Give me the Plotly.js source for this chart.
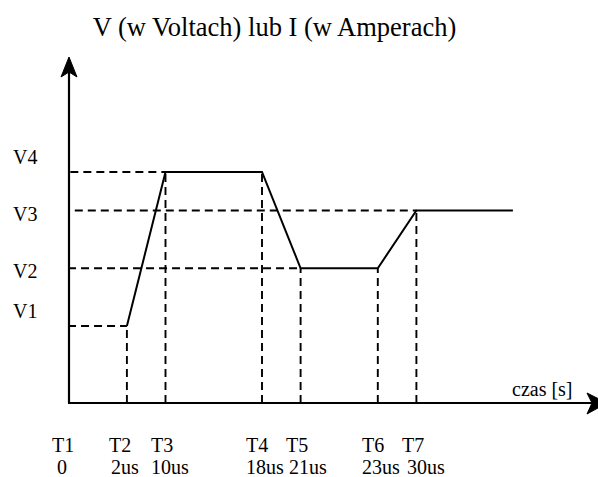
<!DOCTYPE html>
<html><head><meta charset="utf-8">
<script src="https://cdn.plot.ly/plotly-3.0.1.min.js"></script>
</head><body style="margin:0;padding:0"><div id="chart" style="width:598px;height:477px"></div>
<script>
// ---- data (schematic grid units) ----
var timeNames  = ['T1', 'T2', 'T3', 'T4', 'T5', 'T6', 'T7'];
var timeValues = ['0', '2us', '10us', '18us', '21us', '23us', '30us'];
var timePos    = [0, 3, 5, 10, 12, 16, 18];
var endPos     = 23;

var levelNames   = ['V1', 'V2', 'V3', 'V4'];
var levelHeights = [4, 7, 10, 12];

// waveform: at each time mark, which level the signal has
var waveTimes  = ['T2', 'T3', 'T4', 'T5', 'T6', 'T7', 'END'];
var waveLevels = ['V1', 'V4', 'V4', 'V2', 'V2', 'V3', 'V3'];

var title = 'V (w Voltach) lub I (w Amperach)';
var xAxisLabel = 'czas [s]';

// ---- styling / label placement (px offsets) ----
var nameShift  = [-19, -20, -16.5, -18, -16.5, -17.5, -16.5];
var valueShift = [-14, -18, -16.5, -18, -13.5, -17.5, -11.5];
var lvShift = {V1: 15, V2: -3, V3: -3, V4: 15};

// ---- helpers ----
function tX(name) { return name === 'END' ? endPos : timePos[timeNames.indexOf(name)]; }
function lY(name) { return levelHeights[levelNames.indexOf(name)]; }

var FONT = 'Liberation Serif';
var ux = 19.3, uy = 19.25;        // px per grid unit
var x0px = 69, y0px = 403;        // origin in px

var traces = [];
var dashStyle = {color: '#000', width: 1.9, dash: '8px,5px'};

// horizontal guides: from axis to first time each level is reached
var hStart = {V1: -0.05, V2: -0.05, V3: 0.3, V4: 0.07};
levelNames.forEach(function (lv) {
  var i = waveLevels.indexOf(lv);
  traces.push({x: [hStart[lv], tX(waveTimes[i])], y: [lY(lv), lY(lv)], mode: 'lines',
    line: dashStyle, hoverinfo: 'skip', showlegend: false});
});
// vertical guides at each time mark of the waveform (except END)
waveTimes.forEach(function (t, i) {
  if (t === 'END') return;
  traces.push({x: [tX(t), tX(t)], y: [0, lY(waveLevels[i])], mode: 'lines',
    line: dashStyle, hoverinfo: 'skip', showlegend: false});
});
// waveform
traces.push({x: waveTimes.map(tX), y: waveLevels.map(lY), mode: 'lines',
  line: {color: '#000', width: 2}, hoverinfo: 'skip', showlegend: false});

// ---- annotations ----
var ann = [];
var tLabelY = 1 - 445 / 477, tValueY = 1 - 467 / 477;
timeNames.forEach(function (n, i) {
  ann.push({x: timePos[i], xref: 'x', y: tLabelY, yref: 'paper', text: n, showarrow: false,
    xanchor: 'left', yanchor: 'middle', xshift: nameShift[i], font: {family: FONT, size: 20, color: '#000'}});
  ann.push({x: timePos[i], xref: 'x', y: tValueY, yref: 'paper', text: timeValues[i], showarrow: false,
    xanchor: 'left', yanchor: 'middle', xshift: valueShift[i], font: {family: FONT, size: 20, color: '#000'}});
});
levelNames.forEach(function (n, i) {
  ann.push({x: 11 / 598, xref: 'paper', y: levelHeights[i], yref: 'y', text: n, showarrow: false,
    xanchor: 'left', yanchor: 'middle', yshift: lvShift[n], font: {family: FONT, size: 20, color: '#000'}});
});
ann.push({x: (510 - x0px) / ux, xref: 'x', y: (y0px - 389) / uy, yref: 'y', text: xAxisLabel, showarrow: false,
  xanchor: 'left', yanchor: 'middle', font: {family: FONT, size: 20, color: '#000'}});

// ---- axes with arrows as shapes ----
function px2x(p) { return (p - x0px) / ux; }
function py2y(p) { return (y0px - p) / uy; }
var shapes = [
  {type: 'line', x0: px2x(68), x1: px2x(595), y0: 0, y1: 0, line: {color: '#000', width: 2.2}},
  {type: 'line', x0: 0, x1: 0, y0: 0, y1: py2y(65), line: {color: '#000', width: 2.2}},
  {type: 'path', fillcolor: '#000', line: {color: '#000', width: 1},
    path: 'M ' + px2x(61) + ',' + py2y(77) + ' L 0,' + py2y(57) + ' L ' + px2x(77) + ',' + py2y(77) +
          ' L 0,' + py2y(72) + ' Z'},
  {type: 'path', fillcolor: '#000', line: {color: '#000', width: 1},
    path: 'M ' + px2x(587) + ',' + py2y(393) + ' L ' + px2x(607) + ',0 L ' + px2x(587) + ',' + py2y(414) +
          ' L ' + px2x(592) + ',0 Z'}
];

var layout = {
  width: 598, height: 477,
  margin: {l: 0, r: 0, t: 0, b: 0, pad: 0},
  font: {family: FONT, color: '#000'},
  paper_bgcolor: '#fff', plot_bgcolor: '#fff',
  title: {text: title, font: {family: FONT, size: 26.5, color: '#000'},
    x: 274.5 / 598, xref: 'container', xanchor: 'center', y: 1 - 27 / 477, yref: 'container', yanchor: 'middle'},
  xaxis: {range: [-x0px / ux, (598 - x0px) / ux], visible: false, fixedrange: true},
  yaxis: {range: [-(477 - y0px) / uy, y0px / uy], visible: false, fixedrange: true},
  shapes: shapes,
  annotations: ann,
  showlegend: false
};
Plotly.newPlot('chart', traces, layout, {displayModeBar: false});
</script>
</body></html>
